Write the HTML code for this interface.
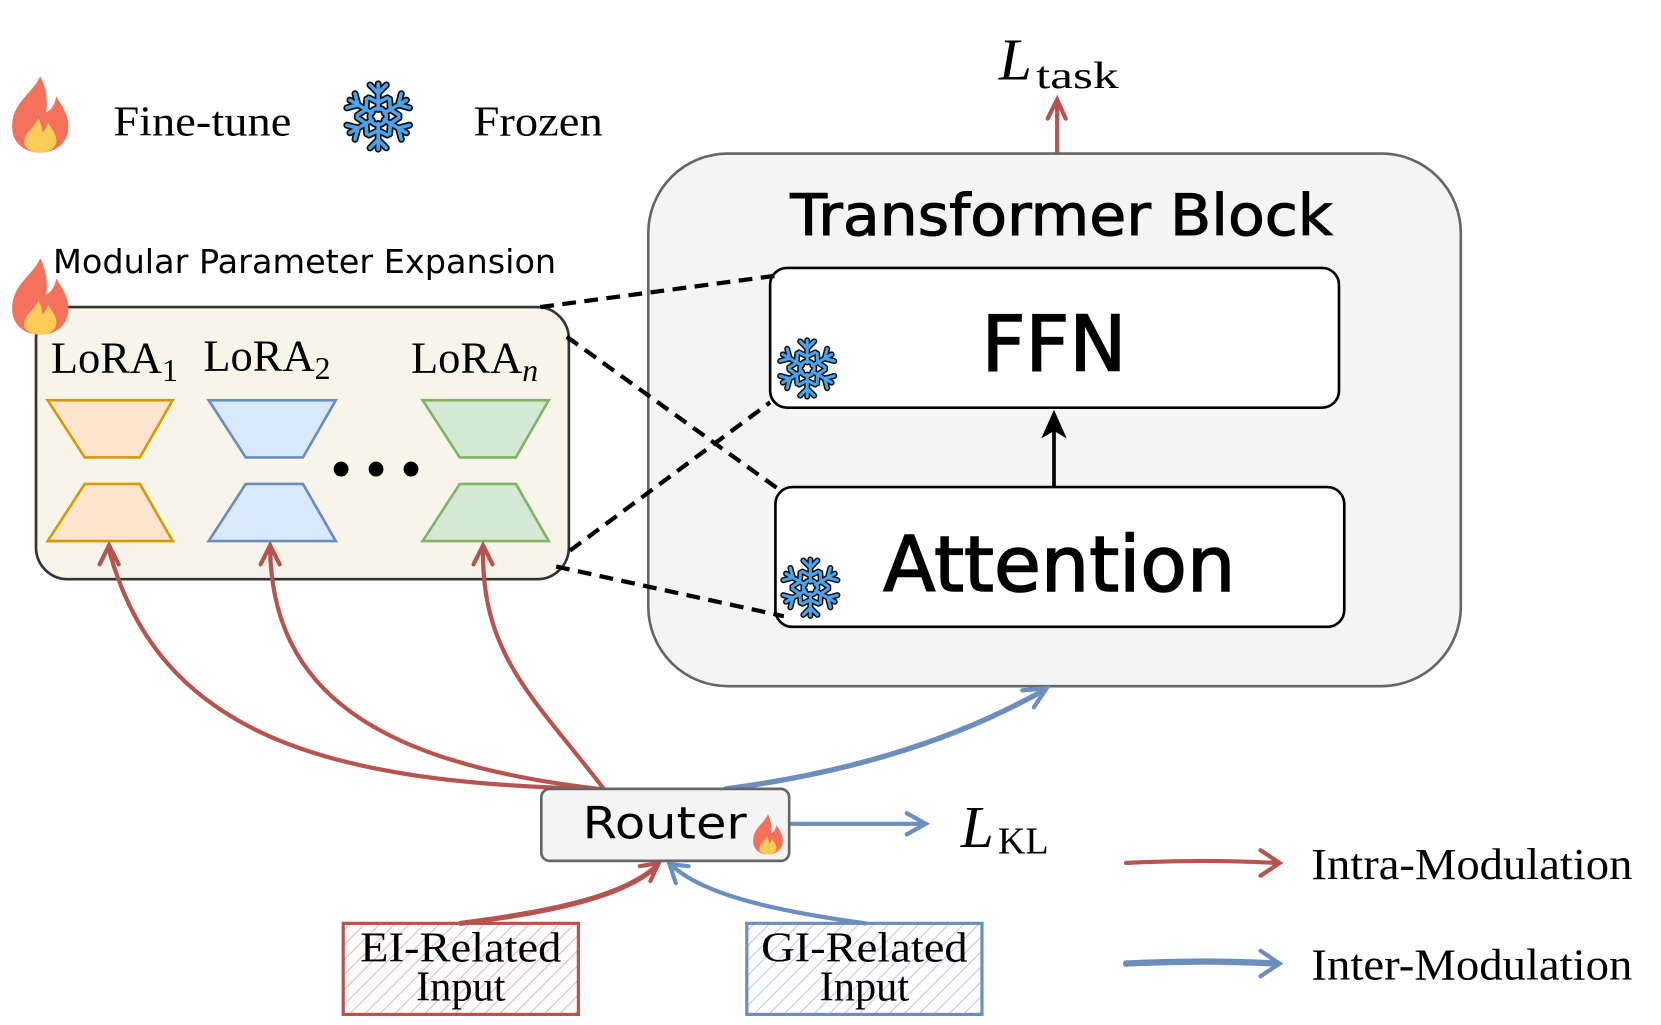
<!DOCTYPE html>
<html><head><meta charset="utf-8"><style>
html,body{margin:0;padding:0;background:#fff;overflow:hidden}
svg{display:block}
.serif{font-family:"Liberation Serif",serif}
.hand{font-family:"DejaVu Sans","Liberation Sans",sans-serif}
</style></head><body>
<svg width="1661" height="1025" viewBox="0 0 1568 968" preserveAspectRatio="none" xmlns="http://www.w3.org/2000/svg">
<defs>
<g id="flame">
<path d="M0,-38 C-8,-20 -28,-12 -28,12 C-28,30 -14,38 0,38 C14,38 28,30 28,12 C28,-2 20,-10 16,-18 C14,-8 10,-4 6,-2 C8,-18 4,-30 0,-38 Z" fill="#f4725c"/>
<path d="M-2,4 C-6,14 -16,18 -16,28 C-16,34 -8,38 0,38 C8,38 16,34 16,26 C16,18 10,14 8,8 C6,14 4,16 2,18 C2,12 0,8 -2,4 Z" fill="#fdcb58"/>
</g>
<g id="snow" stroke="#111" stroke-width="6" stroke-linecap="round">
<g id="arm"><line x1="0" y1="-6" x2="0" y2="-28"/><line x1="0" y1="-20" x2="-7" y2="-27"/><line x1="0" y1="-20" x2="7" y2="-27"/><line x1="0" y1="-12" x2="-8" y2="-16"/><line x1="0" y1="-12" x2="8" y2="-16"/></g>
<use href="#arm" transform="rotate(60)"/><use href="#arm" transform="rotate(120)"/><use href="#arm" transform="rotate(180)"/><use href="#arm" transform="rotate(240)"/><use href="#arm" transform="rotate(300)"/>
<circle r="7" fill="none"/>
<g stroke="#4aa3ef" stroke-width="3"><use href="#arm" stroke="#4aa3ef"/><use href="#arm" transform="rotate(60)"/><use href="#arm" transform="rotate(120)"/><use href="#arm" transform="rotate(180)"/><use href="#arm" transform="rotate(240)"/><use href="#arm" transform="rotate(300)"/><circle r="7" fill="none"/></g>
</g>
<pattern id="hr" width="10" height="10" patternUnits="userSpaceOnUse" patternTransform="rotate(45)"><line x1="0" y1="0" x2="0" y2="10" stroke="#e8b4b0" stroke-width="2"/></pattern>
<pattern id="hb" width="10" height="10" patternUnits="userSpaceOnUse" patternTransform="rotate(45)"><line x1="0" y1="0" x2="0" y2="10" stroke="#b7c8e6" stroke-width="2"/></pattern>
</defs>

<!-- legend -->
<use href="#flame" transform="translate(38,108) scale(0.95)"/>
<text x="107" y="128" class="serif" font-size="40" textLength="168" lengthAdjust="spacingAndGlyphs">Fine-tune</text>
<use href="#snow" transform="translate(357,110) scale(1.1)"/>
<text x="447" y="128" class="serif" font-size="40" textLength="122" lengthAdjust="spacingAndGlyphs">Frozen</text>

<!-- L task -->
<text x="943" y="75" class="serif" font-size="56" font-style="italic">L</text>
<text x="978" y="83" class="serif" font-size="36" textLength="78" lengthAdjust="spacingAndGlyphs">task</text>
<g stroke="#b85450" stroke-width="4" fill="none" stroke-linecap="round">
<line x1="998" y1="145" x2="998" y2="98"/><path d="M989,112 L998,94 L1006,112"/>
</g>

<!-- transformer block -->
<rect x="612" y="145" width="767" height="503" rx="75" fill="#f4f4f4" stroke="#666" stroke-width="2.5"/>
<text x="1002" y="222" class="hand" font-size="54" text-anchor="middle" stroke="#000" stroke-width="1" textLength="512" lengthAdjust="spacingAndGlyphs">Transformer Block</text>
<rect x="727" y="253" width="537" height="132" rx="16" fill="#fff" stroke="#000" stroke-width="2.5"/>
<text x="995" y="350" class="hand" font-size="72" text-anchor="middle" stroke="#000" stroke-width="1.5">FFN</text>
<rect x="732" y="460" width="537" height="132" rx="16" fill="#fff" stroke="#000" stroke-width="2.5"/>
<text x="1000" y="558" class="hand" font-size="72" text-anchor="middle" stroke="#000" stroke-width="1.5">Attention</text>
<line x1="995" y1="460" x2="995" y2="395" stroke="#000" stroke-width="3.5"/>
<path d="M983,414 L995,387 L1007,414 L995,407 Z" fill="#000"/>
<use href="#snow" transform="translate(762,348) scale(0.95)"/>
<use href="#snow" transform="translate(765,555) scale(0.95)"/>

<!-- modular box -->
<rect x="34" y="290" width="503" height="257" rx="30" fill="#f7f4ea" stroke="#333" stroke-width="2.5"/>
<text x="50" y="258" class="hand" font-size="31" textLength="475" lengthAdjust="spacingAndGlyphs">Modular Parameter Expansion</text>
<use href="#flame" transform="translate(38,280) scale(0.95)"/>
<text x="48" y="352" class="serif" font-size="42">LoRA<tspan font-size="30" dy="8">1</tspan></text>
<text x="192" y="350" class="serif" font-size="42">LoRA<tspan font-size="30" dy="8">2</tspan></text>
<text x="388" y="352" class="serif" font-size="42">LoRA<tspan font-size="30" dy="8" font-style="italic">n</tspan></text>
<g stroke-width="2.5">
<path d="M45,378 L163,378 L132,432 L80,432 Z" fill="#fde4cf" stroke="#d79b00"/>
<path d="M80,457 L132,457 L163,511 L45,511 Z" fill="#fde4cf" stroke="#d79b00"/>
<path d="M197,378 L317,378 L286,432 L232,432 Z" fill="#dae8fc" stroke="#6c8ebf"/>
<path d="M232,457 L286,457 L317,511 L197,511 Z" fill="#dae8fc" stroke="#6c8ebf"/>
<path d="M399,378 L518,378 L487,432 L434,432 Z" fill="#d5e8d4" stroke="#82b366"/>
<path d="M434,457 L487,457 L518,511 L399,511 Z" fill="#d5e8d4" stroke="#82b366"/>
</g>
<circle cx="322" cy="443" r="7"/><circle cx="355" cy="443" r="7"/><circle cx="388" cy="443" r="7"/>

<!-- dashed -->
<g stroke="#000" stroke-width="4" stroke-dasharray="13 8" fill="none">
<line x1="510" y1="290" x2="735" y2="260"/>
<line x1="535" y1="318" x2="735" y2="462"/>
<line x1="538" y1="520" x2="727" y2="380"/>
<line x1="525" y1="535" x2="740" y2="582"/>
</g>

<!-- red arrows -->
<g stroke="#b85450" stroke-width="4" fill="none" stroke-linecap="round">
<path d="M565,745 C300,740 150,690 103,520"/>
<path d="M565,745 C350,720 258,650 255,520"/>
<path d="M570,745 C505,660 455,620 456,520"/>
<path d="M94,533 L103,515 L112,533"/><path d="M246,533 L255,515 L264,533"/><path d="M447,533 L456,515 L465,533"/>
<path d="M435,872 C530,860 590,845 620,818" stroke-width="5"/>
<path d="M604,818 L622,815 L614,832"/>
<path d="M1063,815 C1120,812 1170,813 1205,815"/>
<path d="M1190,803 L1208,815 L1190,827"/>
</g>
<!-- blue arrows -->
<g stroke="#6c8ebf" stroke-width="4" fill="none" stroke-linecap="round">
<path d="M685,745 C800,730 900,700 985,652" stroke-width="5"/>
<path d="M965,652 L988,650 L976,668"/>
<path d="M745,778 L872,778"/><path d="M856,768 L874,778 L856,788"/>
<path d="M817,872 C730,860 665,845 635,818"/><path d="M638,834 L632,816 L650,818"/>
<path d="M1063,910 C1120,907 1170,908 1205,910" stroke-width="6"/>
<path d="M1190,898 L1208,910 L1190,922"/>
</g>

<!-- router -->
<rect x="511" y="745" width="234" height="68" rx="8" fill="#f4f4f4" stroke="#666" stroke-width="2.5"/>
<text x="550" y="792" class="hand" font-size="42" textLength="155" lengthAdjust="spacingAndGlyphs">Router</text>
<use href="#flame" transform="translate(725,788) scale(0.5)"/>
<text x="907" y="800" class="serif" font-size="56" font-style="italic">L</text>
<text x="942" y="806" class="serif" font-size="36">KL</text>

<!-- inputs -->
<rect x="324" y="872" width="222" height="86" fill="url(#hr)" stroke="#b85450" stroke-width="3"/>
<text x="435" y="908" class="serif" font-size="40" text-anchor="middle" textLength="190" lengthAdjust="spacingAndGlyphs">EI-Related</text>
<text x="435" y="945" class="serif" font-size="40" text-anchor="middle">Input</text>
<rect x="705" y="872" width="222" height="86" fill="url(#hb)" stroke="#6c8ebf" stroke-width="3"/>
<text x="816" y="908" class="serif" font-size="40" text-anchor="middle" textLength="195" lengthAdjust="spacingAndGlyphs">GI-Related</text>
<text x="816" y="945" class="serif" font-size="40" text-anchor="middle">Input</text>

<text x="1238" y="830" class="serif" font-size="42" textLength="303" lengthAdjust="spacingAndGlyphs">Intra-Modulation</text>
<text x="1238" y="925" class="serif" font-size="42" textLength="303" lengthAdjust="spacingAndGlyphs">Inter-Modulation</text>
</svg>
</body></html>
